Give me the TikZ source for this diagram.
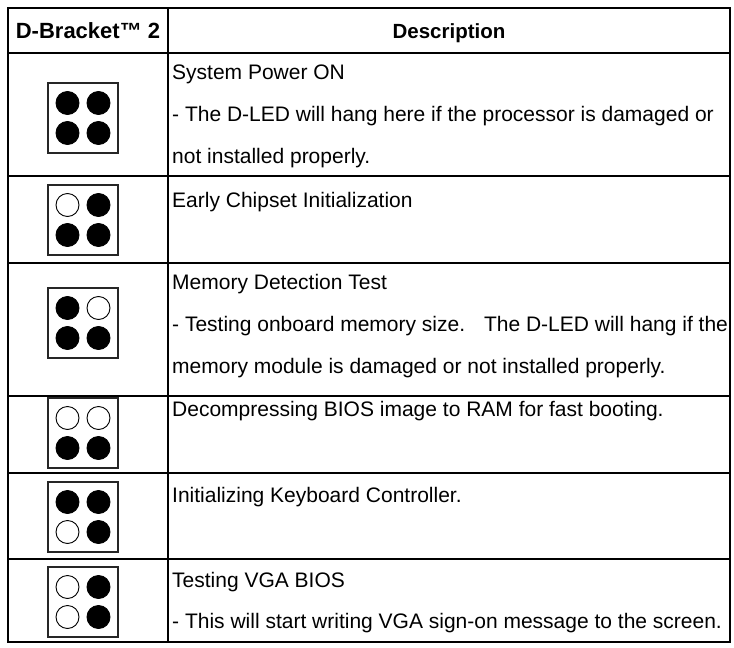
\documentclass[tikz,border=0pt]{standalone}
\usepackage{fontspec}
\setmainfont{Liberation Sans}
\usetikzlibrary{calc}

\begin{document}
\begin{tikzpicture}[x=1pt, y=-1pt,
	desc/.style={anchor=base west, inner sep=0pt, font=\fontsize{21}{24}\selectfont},
	head/.style={anchor=base, inner sep=0pt, font=\fontsize{20.5}{24}\selectfont\bfseries},
	ledframe/.style={draw=black!85, line width=1.3pt, minimum size=70pt, inner sep=0pt},
	ledon/.style={draw=black, fill=black, line width=0.9pt},
	ledoff/.style={draw=black, fill=white, line width=0.9pt},
	rule/.style={line width=1.5pt}]
	\useasboundingbox (0,0) rectangle (734,648);

	%%%% table frame
	\draw[line width=2pt] (8,8) rectangle (730,642);
	\draw[rule] (168,8)--(168,642);
	\foreach \y in {53,176,263,396,473,559}
		\draw[rule] (8,\y)--(730,\y);

	%%%% header
	\node[head, font=\fontsize{22}{24}\selectfont\bfseries] (hbracket) at (88,38) {D-Bracket™ 2};
	\node[head] (hdesc) at (449,38) {Description};

	%%%% LED patterns (top left, top right, bottom left, bottom right)
	\foreach \n/\cy/\a/\b/\c/\d in {1/118/on/on/on/on, 2/220/off/on/on/on,
		3/323/on/off/on/on, 4/433/off/off/on/on, 5/517/on/on/off/on,
		6/602/off/on/off/on}{
		\node[ledframe] (led\n) at (83,\cy) {};
		\draw[led\a] ($(led\n.center)+(-15.5,-15)$) circle (11.5pt);
		\draw[led\b] ($(led\n.center)+(15.5,-15)$) circle (11.5pt);
		\draw[led\c] ($(led\n.center)+(-15.5,15)$) circle (11.5pt);
		\draw[led\d] ($(led\n.center)+(15.5,15)$) circle (11.5pt);
	}

	%%%% descriptions
	\node[desc] (d1a) at (172,79) {System Power ON};
	\node[desc] (d1b) at (172,121) {- The D-LED will hang here if the processor is damaged or};
	\node[desc] (d1c) at (172,163) {not installed properly.};

	\node[desc] (d2a) at (172,207) {Early Chipset Initialization};

	\node[desc] (d3a) at (172,289) {Memory Detection Test};
	\node[desc] (d3b) at (172,331) {- Testing onboard memory size.\hspace{0.9em}The D-LED will hang if the};
	\node[desc] (d3c) at (172,373) {memory module is damaged or not installed properly.};

	\node[desc] (d4a) at (172,416) {Decompressing BIOS image to RAM for fast booting.};

	\node[desc] (d5a) at (172,502) {Initializing Keyboard Controller.};

	\node[desc] (d6a) at (172,587) {Testing VGA BIOS};
	\node[desc] (d6b) at (172,628) {- This will start writing VGA sign-on message to the screen.};
\end{tikzpicture}
\end{document}
